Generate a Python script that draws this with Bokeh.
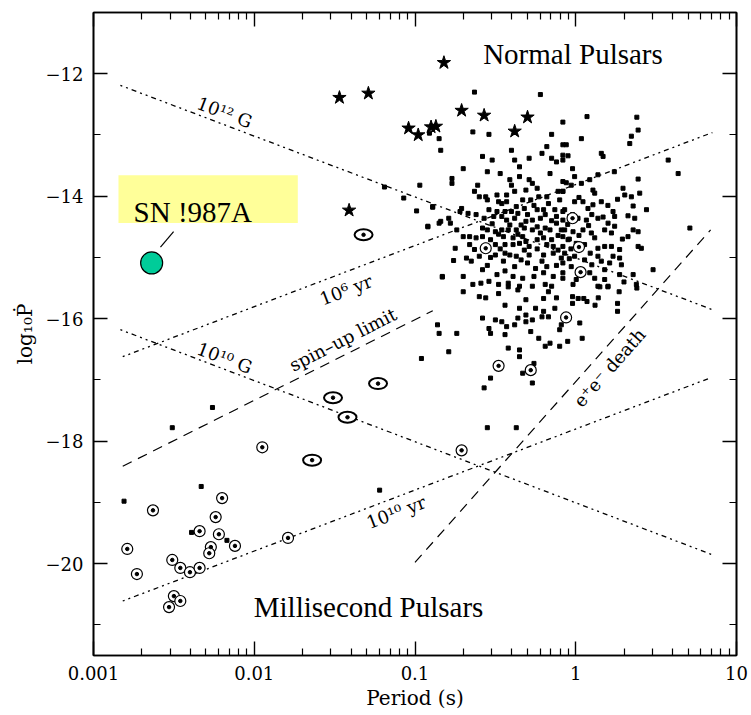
import numpy as np
from bokeh.plotting import figure
from bokeh.models import (FixedTicker, LinearAxis, LogAxis, Label, BoxAnnotation,
                          Range1d, ColumnDataSource)
from bokeh.embed import file_html
from bokeh.resources import INLINE

# ---------------------------------------------------------------------------
# Pulsar P - Pdot diagram data (log10 P [s], log10 Pdot)
# ---------------------------------------------------------------------------
normal_pulsars = [
    (-0.91, -12.97), (-0.85, -13.06), (-0.64, -12.95), (-0.54, -12.99), (-0.38, -12.96),
    (-0.15, -12.99), (-0.08, -13.16), (-0.84, -13.25), (-0.52, -13.41), (-0.40, -13.25),
    (-0.38, -13.41), (-0.29, -13.38), (-0.18, -13.19), (-0.21, -13.30), (-0.15, -13.38),
    (-0.12, -13.44), (-0.08, -13.33), (-0.55, -13.60), (-0.47, -13.63), (-0.77, -13.71),
    (-0.77, -13.79), (-0.61, -13.82), (-0.41, -13.73), (-0.40, -13.82), (-0.35, -13.68),
    (-0.29, -13.73), (-0.27, -13.79), (-0.31, -13.90), (-0.24, -13.87), (-0.16, -13.63),
    (-0.11, -13.92), (-0.08, -13.76), (-0.08, -13.92), (-0.63, -13.92), (-0.60, -14.01),
    (-0.56, -14.01), (-0.55, -14.06), (-0.49, -13.98), (-0.43, -13.98), (-0.38, -13.92),
    (-0.48, -14.09), (-0.43, -14.09), (-0.33, -14.06), (-0.28, -14.06), (-0.23, -14.01),
    (-0.18, -14.01), (-0.10, -14.06), (-0.89, -14.17), (-0.71, -14.20), (-0.72, -14.25),
    (-0.67, -14.28), (-0.62, -14.30), (-0.54, -14.22), (-0.49, -14.25), (-0.44, -14.25),
    (-0.40, -14.25), (-0.37, -14.17), (-0.32, -14.20), (-0.24, -14.22), (-0.20, -14.22),
    (-0.19, -14.30), (-0.13, -14.22), (-0.08, -14.25), (-0.84, -14.41), (-0.79, -14.36),
    (-0.78, -14.44), (-0.57, -14.36), (-0.51, -14.33), (-0.46, -14.33), (-0.43, -14.39),
    (-0.38, -14.36), (-0.41, -14.47), (-0.31, -14.41), (-0.27, -14.39), (-0.22, -14.36),
    (-0.12, -14.33), (-0.12, -14.44), (-0.08, -14.39), (-0.92, -14.49), (-0.74, -14.55),
    (-0.58, -14.52), (-0.55, -14.55), (-0.50, -14.58), (-0.46, -14.55), (-0.42, -14.55),
    (-0.37, -14.55), (-0.32, -14.52), (-0.27, -14.55), (-0.19, -14.52), (-0.16, -14.55),
    (-0.09, -14.55), (-0.70, -14.66), (-0.66, -14.66), (-0.62, -14.68), (-0.58, -14.66),
    (-0.53, -14.71), (-0.45, -14.66), (-0.39, -14.68), (-0.33, -14.66), (-0.31, -14.74),
    (-0.24, -14.71), (-0.20, -14.68), (-0.15, -14.71), (-0.08, -14.66), (-0.66, -14.79),
    (-0.63, -14.87), (-0.50, -14.79), (-0.44, -14.79), (-0.39, -14.79), (-0.35, -14.77),
    (-0.29, -14.82), (-0.18, -14.79), (-0.14, -14.82), (-0.08, -14.82), (-0.68, -15.01),
    (-0.60, -14.98), (-0.50, -14.96), (-0.44, -14.93), (-0.41, -14.96), (-0.37, -14.98),
    (-0.29, -14.96), (-0.20, -14.96), (-0.14, -14.93), (-0.09, -15.01), (-0.65, -15.06),
    (-0.55, -15.13), (-0.45, -15.06), (-0.38, -15.15), (-0.30, -15.09), (-0.21, -15.06),
    (-0.18, -15.15), (-0.08, -15.09), (-0.83, -15.31), (-0.70, -15.31), (-0.49, -15.28),
    (-0.39, -15.31), (-0.33, -15.34), (-0.26, -15.31), (-0.20, -15.25), (-0.14, -15.31),
    (-0.08, -15.25), (-0.64, -15.44), (-0.59, -15.42), (-0.54, -15.39), (-0.48, -15.44),
    (-0.42, -15.42), (-0.35, -15.47), (-0.27, -15.47), (-0.19, -15.44), (-0.15, -15.47),
    # dense core, second pass
    (-0.46, -14.12), (-0.36, -14.28), (-0.30, -14.30), (-0.26, -14.15), (-0.17, -14.12),
    (-0.15, -14.40), (-0.05, -14.46), (-0.34, -14.47), (-0.24, -14.50), (-0.52, -14.45),
    (-0.48, -14.62), (-0.36, -14.62), (-0.22, -14.60), (-0.11, -14.64), (-0.04, -14.70),
    (-0.56, -14.80), (-0.47, -14.86), (-0.32, -14.88), (-0.24, -14.86), (-0.11, -14.88),
    (-0.53, -15.00), (-0.34, -15.04), (-0.25, -15.18), (-0.12, -15.13), (-0.58, -15.20),
    (-0.44, -15.22), (-0.04, -15.02), (-0.03, -14.86), (0.02, -14.64), (0.08, -14.48),
    (-0.02, -14.30), (0.10, -14.30), (0.02, -14.02), (0.20, -14.15), (0.26, -14.05),
    (-0.02, -13.55), (0.24, -13.60), (-0.35, -13.52), (-0.58, -13.35), (-0.70, -13.55),
    (0.09, -14.93), (0.29, -14.70), (0.10, -15.12), (0.30, -15.40), (-0.75, -14.85),
    (-0.76, -15.05),
    # longer periods
    (0.035, -13.06), (0.346, -13.02), (0.388, -12.92), (0.336, -13.14), (-0.059, -13.16),
    (0.159, -13.30), (0.170, -13.35), (-0.048, -13.34), (-0.080, -13.41), (0.575, -13.41),
    (0.637, -13.63), (0.388, -13.72), (0.138, -13.65), (-0.007, -13.68), (0.087, -13.73),
    (0.035, -13.79), (-0.059, -13.78), (-0.028, -13.82), (-0.080, -13.92), (0.107, -13.90),
    (0.118, -13.95), (0.294, -13.87), (0.305, -13.98), (0.346, -14.01), (0.398, -13.95),
    (-0.007, -14.09), (0.045, -14.09), (0.159, -14.09), (0.107, -14.14), (0.076, -14.20),
    (0.357, -14.16), (0.440, -14.22), (-0.069, -14.22), (-0.038, -14.33), (0.014, -14.36),
    (0.066, -14.39), (0.138, -14.36), (0.170, -14.34), (0.232, -14.25), (0.242, -14.33),
    (0.201, -14.44), (0.242, -14.49), (0.325, -14.32), (0.367, -14.36), (0.710, -14.52),
    (-0.069, -14.55), (-0.017, -14.58), (0.045, -14.55), (0.097, -14.60), (0.118, -14.68),
    (0.180, -14.55), (0.222, -14.60), (0.325, -14.66), (0.357, -14.55), (0.388, -14.58),
    (-0.048, -14.71), (0.003, -14.77), (0.055, -14.79), (0.138, -14.85), (0.180, -14.82),
    (0.222, -14.82), (0.273, -14.87), (0.388, -14.82), (0.408, -14.85), (-0.069, -14.93),
    (-0.007, -14.98), (0.055, -15.04), (0.138, -14.98), (0.159, -15.06), (0.211, -15.09),
    (0.284, -15.12), (0.273, -15.01), (0.232, -14.98), (-0.028, -15.15), (0.035, -15.20),
    (0.087, -15.25), (0.180, -15.20), (0.357, -15.28), (0.481, -15.20), (-0.080, -15.34),
    (0.003, -15.36), (0.118, -15.34), (0.180, -15.36), (0.273, -15.28), (0.138, -15.47),
    (0.201, -15.47), (0.377, -15.44), (-0.017, -15.44),
    # lower edge of the main group
    (-0.70, -15.56), (-0.60, -15.64), (-0.56, -15.66), (-0.48, -15.59), (-0.42, -15.48),
    (-0.36, -15.53), (-0.31, -15.69), (-0.20, -15.67), (-0.17, -15.56), (-0.12, -15.66),
    (-0.02, -15.64), (0.015, -15.67), (0.07, -15.72), (0.14, -15.66), (0.15, -15.48),
    (0.20, -15.48), (0.27, -15.56), (0.38, -15.50), (0.26, -15.75), (0.26, -15.88),
    (-0.44, -15.78), (-0.35, -15.83), (-0.31, -15.94), (-0.25, -15.83), (-0.20, -15.88),
    (-0.17, -15.97), (-0.13, -15.83), (-0.02, -15.75), (0.05, -15.67), (0.12, -15.78),
    (-0.58, -15.99), (-0.50, -16.02), (-0.46, -16.05), (-0.43, -16.13), (-0.38, -16.10),
    (-0.36, -15.99), (-0.31, -16.05), (-0.27, -16.02), (-0.21, -15.97), (0.025, -16.07),
    (-0.09, -16.10), (-0.10, -16.18), (-0.86, -16.10), (-0.85, -16.24), (-0.74, -16.24),
    (-0.54, -16.16), (-0.53, -16.24), (-0.44, -16.26), (-0.28, -16.21), (-0.23, -16.32),
    (-0.19, -16.45), (-0.16, -16.40), (-0.10, -16.45), (-0.05, -16.37), (0.04, -16.32),
    (-0.79, -16.54), (-0.42, -16.48), (-0.35, -16.51), (-0.35, -16.62), (-0.26, -16.73),
    (-0.33, -16.89), (-0.53, -16.97), (-0.57, -17.13), (-0.27, -17.05), (-0.55, -17.78),
    (-0.37, -17.78),
    # scattered points
    (-0.63, -12.30), (-0.22, -12.34), (0.07, -12.70), (-0.08, -12.79), (0.38, -12.71),
    (-0.97, -13.82), (-1.19, -13.85), (-1.07, -14.03), (-0.99, -14.24), (-0.89, -14.18),
    (-0.92, -14.50), (-0.85, -14.44), (-0.83, -15.32), (-0.96, -16.65),
    (-2.81, -18.98), (-2.33, -18.74), (-2.39, -19.49), (-2.17, -19.62), (-2.26, -17.45),
    (-2.51, -17.78), (-1.22, -18.80),
]

# pulsars associated with supernova remnants
snr_logp = [-0.82, -1.47, -1.29, -0.71, -0.57, -0.30, -1.04, -0.98, -0.90, -0.87, -0.38, -1.41]
snr_logpdot = [-11.82, -12.39, -12.32, -12.60, -12.68, -12.71, -12.89, -13.00, -12.87, -12.86, -12.94, -14.23]

# binary pulsars (circular orbits)
binary_logp = [-2.63, -2.20, -2.24, -2.34, -2.22, -2.12, -2.27, -2.28, -2.79, -2.51,
               -2.46, -2.40, -2.34, -2.73, -2.50, -2.46, -2.53, -1.79, -1.95, -0.71,
               -0.48, -0.28, -0.06, -0.56, -0.02, 0.02, 0.03]
binary_logpdot = [-19.13, -18.93, -19.24, -19.47, -19.52, -19.71, -19.73, -19.83, -19.76, -19.94,
                  -20.07, -20.14, -20.07, -20.17, -20.53, -20.61, -20.71, -19.58, -18.10, -18.15,
                  -16.77, -16.84, -15.98, -14.85, -14.36, -14.83, -15.24]

# binary pulsars (eccentric orbits)
ecc_logp = [-1.32, -1.23, -1.51, -1.42, -1.64]
ecc_logpdot = [-14.63, -17.06, -17.29, -17.61, -18.31]

# SN 1987A
sn_p = [0.0023]
sn_logpdot = [-15.09]

# reference lines: (period endpoints [s], log Pdot endpoints)
b12_p, b12_pd = [0.00147, 7.2], [-12.19, -15.86]
b10_p, b10_pd = [0.00147, 7.0], [-16.18, -19.85]
age6_p, age6_pd = [0.00152, 7.08], [-16.62, -12.96]
age10_p, age10_pd = [0.00152, 6.98], [-20.61, -16.96]
spinup_p, spinup_pd = [0.00152, 0.129], [-18.41, -15.87]
death_p, death_pd = [0.1, 6.9], [-19.98, -14.55]

x_ticks = [0.001, 0.01, 0.1, 1, 10]
x_tick_labels = ["0.001", "0.01", "0.1", "1", "10"]
y_ticks = [-20, -18, -16, -14, -12]
y_tick_labels = ["\u221220", "\u221218", "\u221216", "\u221214", "\u221212"]

# ---------------------------------------------------------------------------
TICK_FONT = "DejaVu Serif"
LABEL_FONT = "Liberation Serif"

p = figure(width=751, height=715, x_axis_type="log",
           x_range=Range1d(0.001, 10), y_range=Range1d(-21.5, -11.0),
           output_backend="svg", toolbar_location=None,
           min_border_left=93, min_border_right=15, min_border_top=12, min_border_bottom=60)
p.xgrid.visible = False
p.ygrid.visible = False
p.outline_line_color = "black"
p.outline_line_width = 1.6
p.background_fill_color = "white"
p.border_fill_color = "white"

x_minor = [m * 10.0 ** e for e in range(-3, 1) for m in range(2, 10)]
y_minor = [-21, -19, -17, -15, -13]
xticker = FixedTicker(ticks=x_ticks, minor_ticks=x_minor)
yticker = FixedTicker(ticks=y_ticks, minor_ticks=y_minor)


def style_axis(ax):
    ax.axis_line_color = "black"
    ax.axis_line_width = 1.6
    ax.major_tick_in = 14
    ax.major_tick_out = 0
    ax.minor_tick_in = 7
    ax.minor_tick_out = 0
    ax.major_tick_line_width = 1.4
    ax.minor_tick_line_width = 1.2
    ax.major_tick_line_color = "black"
    ax.minor_tick_line_color = "black"


xa = p.xaxis[0]
ya = p.yaxis[0]
xa.ticker = xticker
ya.ticker = yticker
style_axis(xa)
style_axis(ya)
xa.major_label_overrides = dict(zip(x_ticks, x_tick_labels))
ya.major_label_overrides = dict(zip(y_ticks, y_tick_labels))
for ax in (xa, ya):
    ax.major_label_text_font = TICK_FONT
    ax.major_label_text_font_size = "18px"
    ax.major_label_text_color = "black"
    ax.axis_label_text_font = TICK_FONT
    ax.axis_label_text_font_size = "20px"
    ax.axis_label_text_font_style = "normal"
    ax.axis_label_text_color = "black"
xa.major_label_standoff = 10
ya.major_label_standoff = 10
xa.axis_label = "Period (s)"
xa.axis_label_standoff = 3
ya.axis_label = "log\u2081\u2080\u1e56"
ya.axis_label_standoff = 6

# mirrored tick marks on the top and right edges (labels hidden)
top = LogAxis(ticker=xticker, major_label_text_font_size="1px",
              major_label_text_color=None, major_label_standoff=0)
right = LinearAxis(ticker=yticker, major_label_text_font_size="1px",
                   major_label_text_color=None, major_label_standoff=0)
style_axis(top)
style_axis(right)
p.add_layout(top, "above")
p.add_layout(right, "right")

# label box for SN 1987A
p.add_layout(BoxAnnotation(left=0.00143, right=0.01866, bottom=-14.438, top=-13.656,
                           fill_color="#ffff99", fill_alpha=1.0, line_color=None,
                           level="underlay"))

# reference lines
dotted = dict(line_color="black", line_width=1.3, line_dash="2 4 2 4 5 4")
dashed = dict(line_color="black", line_width=1.2, line_dash="10 7")
for xs, ys in ((b12_p, b12_pd), (b10_p, b10_pd), (age6_p, age6_pd), (age10_p, age10_pd)):
    p.line(xs, ys, **dotted)
for xs, ys in ((spinup_p, spinup_pd), (death_p, death_pd)):
    p.line(xs, ys, **dashed)

# pulsars
nlp = np.array([v[0] for v in normal_pulsars])
nlpd = np.array([v[1] for v in normal_pulsars])
p.scatter(10 ** nlp, nlpd, marker="square", size=4, color="black")

p.scatter(10 ** np.array(binary_logp), binary_logpdot, marker="circle_dot", size=11,
          line_color="black", line_width=1.2, fill_color="white")
p.scatter(10 ** np.array(binary_logp), binary_logpdot, marker="circle", size=3.5, color="black")

ecc_src = ColumnDataSource(dict(x=10 ** np.array(ecc_logp), y=ecc_logpdot))
p.ellipse(x="x", y="y", width=18, height=11, width_units="screen", height_units="screen",
          source=ecc_src, fill_color="white", line_color="black", line_width=2)
p.scatter(x="x", y="y", source=ecc_src, marker="circle", size=3.5, color="black")

p.scatter(10 ** np.array(snr_logp), snr_logpdot, marker="star", size=14, color="black")

# SN 1987A
p.line([0.00261, 0.00315], [-14.83, -14.58], line_color="black", line_width=1.2)
p.scatter(sn_p, sn_logpdot, marker="circle", size=22, fill_color="#00cc99",
          line_color="black", line_width=1.2)

# text annotations
big = dict(text_font=LABEL_FONT, text_font_size="29px", text_color="black")
p.add_layout(Label(x=0.2655, y=-11.67, text="Normal Pulsars", text_align="left",
                   text_baseline="alphabetic", **big))
p.add_layout(Label(x=0.00993, y=-20.71, text="Millisecond Pulsars", text_align="left",
                   text_baseline="alphabetic", **big))
p.add_layout(Label(x=0.001775, y=-14.26, text="SN !987A", text_align="left",
                   text_baseline="alphabetic", **big))

small = dict(text_font=TICK_FONT, text_font_size="18px", text_color="black",
             text_align="center", text_baseline="middle", angle_units="deg")
line_labels = [
    (0.00655, -12.63, "10\u00b9\u00b2 G", -20.9),
    (0.00655, -16.64, "10\u00b9\u2070 G", -20.9),
    (0.0372, -15.53, "10\u2076 yr", 20.9),
    (0.0762, -19.16, "10\u00b9\u2070 yr", 20.9),
    (0.0356, -16.34, "spin\u2013up limit", 27.0),
    (1.62, -16.80, "e\u207ae\u207b death", 48.5),
]
for x, y, t, a in line_labels:
    p.add_layout(Label(x=x, y=y, text=t, angle=a, **small))

open("out.html", "w").write(file_html(p, INLINE))
